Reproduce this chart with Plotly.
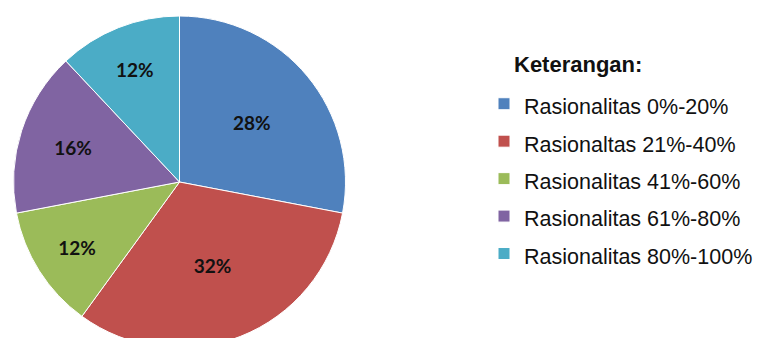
import plotly.graph_objects as go

categories = ["Rasionalitas 0%-20%", "Rasionaltas 21%-40%", "Rasionalitas 41%-60%",
              "Rasionalitas 61%-80%", "Rasionalitas 80%-100%"]
values = [28, 32, 12, 16, 12]
colors = ["#4F81BD", "#C0504D", "#9BBB59", "#8064A2", "#4BACC6"]
legend_title = "Keterangan:"

W, H = 761, 352

labels = ['<span style="font-size:21.5px">%s</span>' % c for c in categories]

fig = go.Figure(go.Pie(
    labels=labels,
    values=values,
    sort=False,
    direction="clockwise",
    rotation=0,
    marker=dict(colors=colors, line=dict(color="#FFFFFF", width=1)),
    textinfo="percent",
    textposition="inside",
    insidetextorientation="horizontal",
    textfont=dict(family="Lato", size=19, color="#111111", weight="bold"),
    domain=dict(x=[13 / W, 346 / W], y=[1 - 348 / H, 1 - 16 / H]),
    hoverinfo="skip",
))

fig.update_layout(
    width=W, height=H,
    margin=dict(l=0, r=0, t=0, b=0),
    paper_bgcolor="white",
    showlegend=True,
    legend=dict(
        x=484 / W, xanchor="left",
        y=1 - 80 / H, yanchor="top",
        font=dict(family="Liberation Sans, Arial", size=26.5, color="#111111"),
        bgcolor="rgba(0,0,0,0)",
    ),
    annotations=[dict(
        text="<b>" + legend_title + "</b>",
        xref="paper", yref="paper",
        x=512 / W, y=1 - 64 / H, xanchor="left", yanchor="middle",
        showarrow=False,
        font=dict(family="Liberation Sans, Arial", size=22, color="#111111"),
    )],
)

fig.write_html("out.html",
               config={"displayModeBar": False},
               post_script="document.body.style.margin='0';document.body.style.overflow='hidden';")
